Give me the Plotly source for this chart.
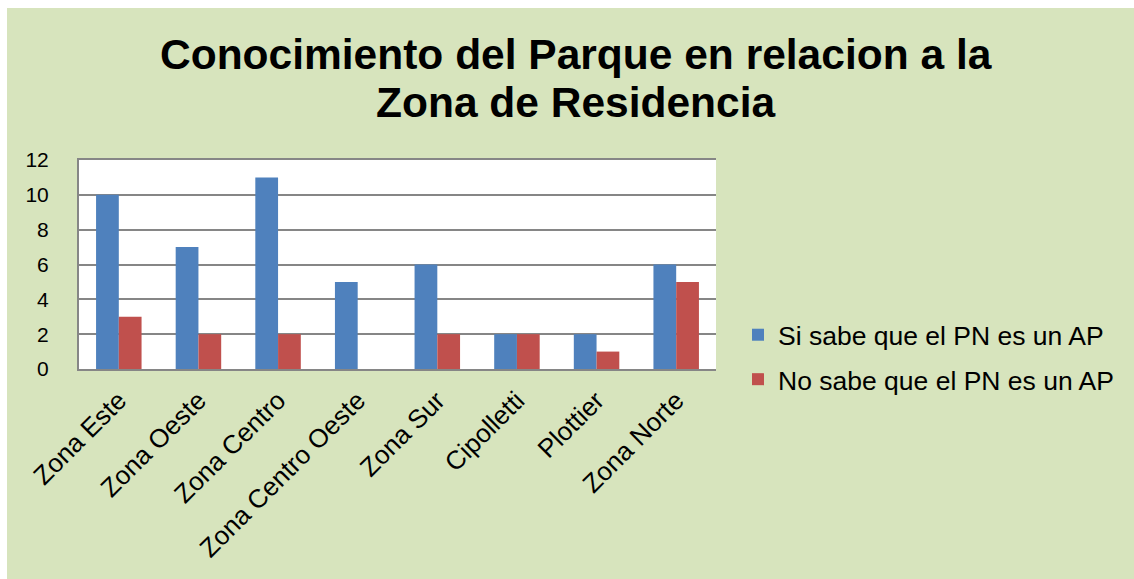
import plotly.graph_objects as go

categories = ["Zona Este", "Zona Oeste", "Zona Centro", "Zona Centro Oeste",
              "Zona Sur", "Cipolletti", "Plottier", "Zona Norte"]
si_sabe = [10, 7, 11, 5, 6, 2, 2, 6]
no_sabe = [3, 2, 2, 0, 2, 2, 1, 5]
series_names = ["Si sabe que el PN es un AP", "No sabe que el PN es un AP"]
title_lines = ["Conocimiento del Parque en relacion a la", "Zona de Residencia"]
y_ticks = [0, 2, 4, 6, 8, 10, 12]

W, H = 1134, 579
L, R, T, B = 79, 418, 160, 210
pw, ph = W - L - R, H - T - B

def px(x):
    return (x - L) / pw

def py(y):
    return (H - B - y) / ph

FONT = "Liberation Sans, Arial, sans-serif"
GREEN = "#D7E4BD"
GRID = "#868686"

fig = go.Figure()
fig.add_trace(go.Bar(x=categories, y=si_sabe, name=series_names[0],
                     marker=dict(color="#4F81BD", line=dict(width=0)),
                     legendgroup="a"))
fig.add_trace(go.Bar(x=categories, y=no_sabe, name=series_names[1],
                     marker=dict(color="#C0504D", line=dict(width=0)),
                     legendgroup="b"))

# thin white strips at the left and top edges of the picture
shapes = [
    dict(type="rect", xref="paper", yref="paper", x0=px(0), x1=px(7), y0=py(H), y1=py(0),
         fillcolor="white", line=dict(width=0), layer="below"),
    dict(type="rect", xref="paper", yref="paper", x0=px(0), x1=px(W), y0=py(8), y1=py(0),
         fillcolor="white", line=dict(width=0), layer="below"),
]

annotations = [
    dict(text=title_lines[0], xref="paper", yref="paper", x=px(576), y=py(55),
         xanchor="center", yanchor="middle", showarrow=False,
         font=dict(family=FONT, size=42.5, color="black", weight="bold")),
    dict(text=title_lines[1], xref="paper", yref="paper", x=px(576), y=py(102),
         xanchor="center", yanchor="middle", showarrow=False,
         font=dict(family=FONT, size=42.5, color="black", weight="bold")),
]

fig.update_layout(
    width=W, height=H,
    margin=dict(l=L, r=R, t=T, b=B, pad=0),
    paper_bgcolor=GREEN, plot_bgcolor="white",
    barmode="group", bargap=0.4286, bargroupgap=0,
    font=dict(family=FONT, color="black"),
    shapes=shapes, annotations=annotations,
    showlegend=True,
    legend=dict(x=px(738), y=py(357), xanchor="left", yanchor="middle",
                bgcolor="rgba(0,0,0,0)", font=dict(family=FONT, size=26.5, color="black"),
                traceorder="grouped", tracegroupgap=7),
    xaxis=dict(showline=True, mirror=True, linecolor=GRID, linewidth=2,
               showgrid=False, tickangle=-45, tickfont=dict(size=26, family=FONT),
               ticks="", ticklabelstandoff=4),
    yaxis=dict(range=[0, 12], tickvals=y_ticks, showgrid=True, gridcolor=GRID, gridwidth=2,
               showline=True, linecolor=GRID, linewidth=2, zeroline=False,
               tickfont=dict(size=21, family=FONT), ticks="", ticklabelstandoff=24),
)

fig.write_html(
    "out.html",
    config={"displayModeBar": False},
    post_script="document.body.style.margin='0';document.body.style.overflow='hidden';",
)
